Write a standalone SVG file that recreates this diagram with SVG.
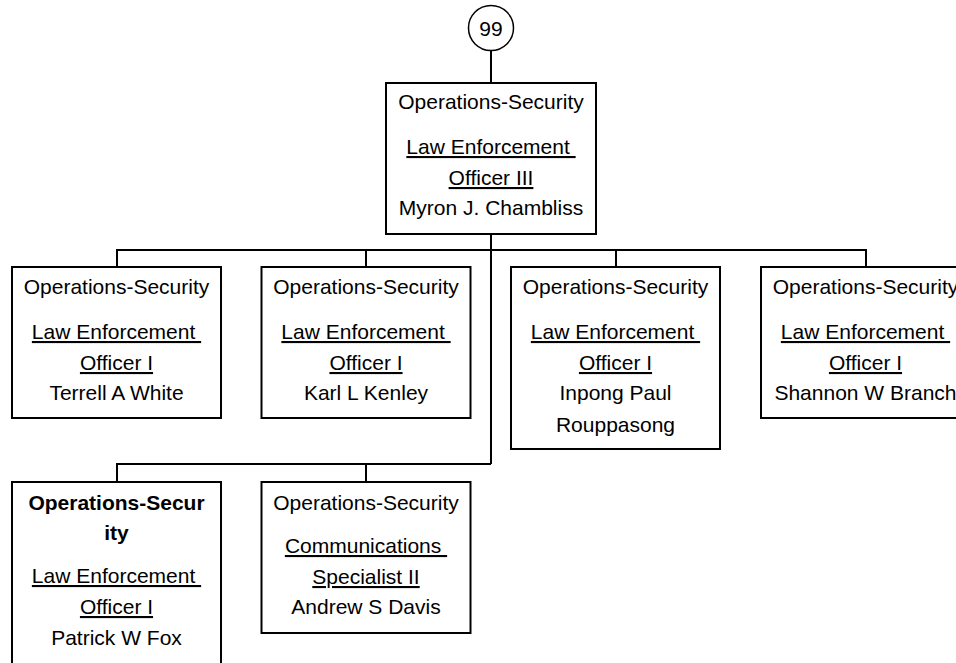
<svg xmlns="http://www.w3.org/2000/svg" width="956" height="663" viewBox="0 0 956 663">
<style>
.box{fill:#fff;stroke:#000;stroke-width:2}
.ln{fill:none;stroke:#000;stroke-width:2}
text{font-family:"Liberation Sans",Arial,sans-serif;font-size:21px;fill:#000;text-anchor:middle;white-space:pre}
.u{text-decoration:underline}
.b{font-weight:bold}
</style>
<rect width="956" height="663" fill="#fff"/>
<g id="connectors">
<path class="ln" d="M491 51V83"/>
<path class="ln" d="M491 234V464"/>
<path class="ln" d="M117 267V250H866V267M366 250V267M616 250V267"/>
<path class="ln" d="M117 482V464H491M366 464V482"/>
</g>
<g id="n99">
<circle cx="491" cy="28" r="22.5" fill="#fff" stroke="#000" stroke-width="1.5"/>
<text x="491" y="35.5">99</text>
</g>
<g id="top">
<rect class="box" x="386" y="83" width="210" height="151"/>
<text x="491" y="109">Operations-Security</text>
<text class="u" x="491" y="154" xml:space="preserve">Law Enforcement </text>
<text class="u" x="491" y="185">Officer III</text>
<text x="491" y="215">Myron J. Chambliss</text>
</g>
<g id="n1">
<rect class="box" x="12" y="267" width="209" height="151"/>
<text x="116.5" y="294">Operations-Security</text>
<text class="u" x="116.5" y="339" xml:space="preserve">Law Enforcement </text>
<text class="u" x="116.5" y="370">Officer I</text>
<text x="116.5" y="400">Terrell A White</text>
</g>
<g id="n2">
<rect class="box" x="261.5" y="267" width="209" height="151"/>
<text x="366" y="294">Operations-Security</text>
<text class="u" x="366" y="339" xml:space="preserve">Law Enforcement </text>
<text class="u" x="366" y="370">Officer I</text>
<text x="366" y="400">Karl L Kenley</text>
</g>
<g id="n3">
<rect class="box" x="511" y="267" width="209" height="182"/>
<text x="615.5" y="294">Operations-Security</text>
<text class="u" x="615.5" y="339" xml:space="preserve">Law Enforcement </text>
<text class="u" x="615.5" y="370">Officer I</text>
<text x="615.5" y="400">Inpong Paul</text>
<text x="615.5" y="431.5">Rouppasong</text>
</g>
<g id="n4">
<rect class="box" x="761" y="267" width="209" height="151"/>
<text x="865.5" y="294">Operations-Security</text>
<text class="u" x="865.5" y="339" xml:space="preserve">Law Enforcement </text>
<text class="u" x="865.5" y="370">Officer I</text>
<text x="865.5" y="400">Shannon W Branch</text>
</g>
<g id="n5">
<rect class="box" x="12" y="482" width="209" height="220"/>
<text class="b" x="116.5" y="510">Operations-Secur</text>
<text class="b" x="116.5" y="539.5">ity</text>
<text class="u" x="116.5" y="583" xml:space="preserve">Law Enforcement </text>
<text class="u" x="116.5" y="614">Officer I</text>
<text x="116.5" y="645">Patrick W Fox</text>
</g>
<g id="n6">
<rect class="box" x="261.5" y="482" width="209" height="151"/>
<text x="366" y="510">Operations-Security</text>
<text class="u" x="366" y="553" xml:space="preserve">Communications </text>
<text class="u" x="366" y="584">Specialist II</text>
<text x="366" y="614">Andrew S Davis</text>
</g>
</svg>
